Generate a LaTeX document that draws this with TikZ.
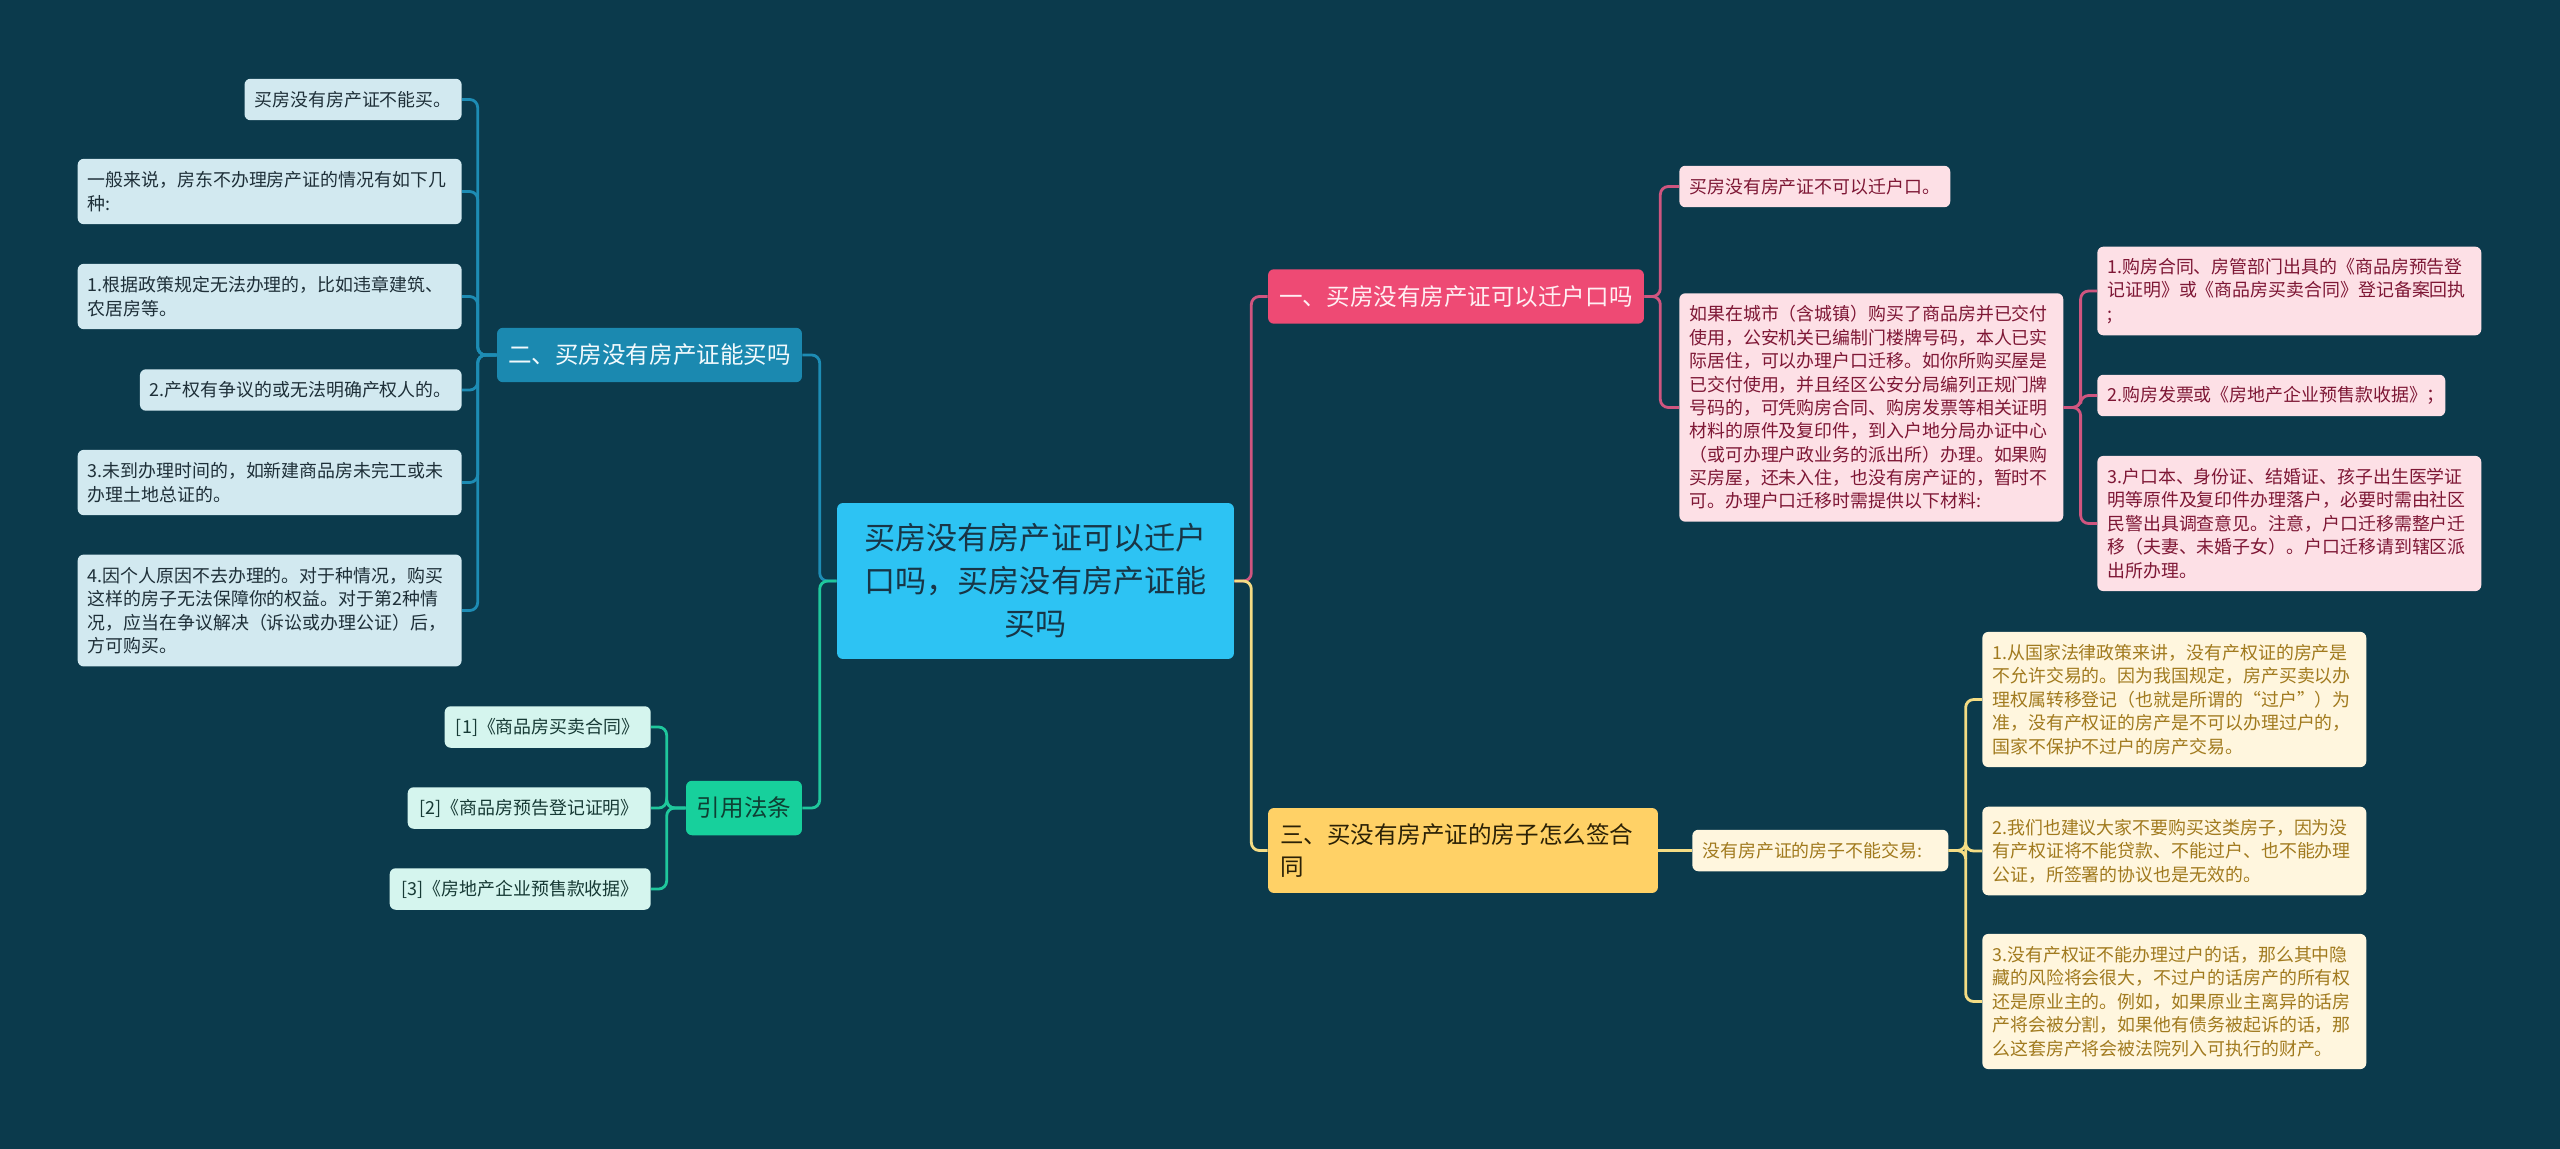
\documentclass[tikz,border=0pt]{standalone}
\usepackage{fontspec}
\setmainfont{Noto Sans CJK SC}

\definecolor{bgcol}{HTML}{0B3A4C}
\definecolor{rootfill}{HTML}{2DC3F3}
\definecolor{roottext}{HTML}{183546}
\definecolor{redfill}{HTML}{EE4A74}
\definecolor{redtext}{HTML}{FFEFF3}
\definecolor{redline}{HTML}{CF557F}
\definecolor{pinkleaf}{HTML}{FDE0E6}
\definecolor{pinktext}{HTML}{7E1735}
\definecolor{bluefill}{HTML}{1B89B0}
\definecolor{bluetext}{HTML}{F2FAFD}
\definecolor{blueline}{HTML}{1D8CB4}
\definecolor{blueleaf}{HTML}{D2E9F0}
\definecolor{bluelt}{HTML}{1E2F38}
\definecolor{yelfill}{HTML}{FFD166}
\definecolor{yeltext}{HTML}{2B2106}
\definecolor{yelline}{HTML}{F4DC84}
\definecolor{yelleaf}{HTML}{FFF6DE}
\definecolor{yellt}{HTML}{A17A1E}
\definecolor{grnfill}{HTML}{17D09C}
\definecolor{grntext}{HTML}{0E3F33}
\definecolor{grnline}{HTML}{1FC79C}
\definecolor{grnleaf}{HTML}{D5F5EE}
\definecolor{grnlt}{HTML}{173A35}

\begin{document}
\begin{tikzpicture}[x=0.02cm, y=-0.02cm,
    box/.style={rounded corners=0.12cm, inner sep=0pt},
    leaf/.style={box, inner xsep=0.2cm, align=left, minimum height=0.83cm, font=\fontsize{10.2pt}{13.3pt}\selectfont},
    wide/.style={text width=7.28cm},
    nlines/.style={minimum height={(42+(#1-1)*23.3)*0.02cm}},
    branch/.style={box, minimum height=1.09cm, font=\fontsize{13.4pt}{18pt}\selectfont},
    conn/.style={line width=1.6pt, rounded corners=0.16cm},
    bleaf/.style={leaf, fill=blueleaf, text=bluelt, anchor=east},
    pleaf/.style={leaf, fill=pinkleaf, text=pinktext, anchor=west},
    yleaf/.style={leaf, fill=yelleaf, text=yellt, anchor=west},
    gleaf/.style={leaf, fill=grnleaf, text=grnlt, anchor=east}]

    % fond
    \fill[bgcol] (0,0) rectangle (2560,1149);

    % centre
    \node[box, fill=rootfill, text=roottext, minimum width=7.94cm, minimum height=3.12cm, align=center,
        font=\fontsize{17.7pt}{24.5pt}\selectfont] (root) at (1035.5,581) {买房没有房产证可以迁户\\口吗，买房没有房产证能\\买吗};

    % branches
    \node[branch, fill=redfill, text=redtext, minimum width=7.52cm] (one) at (1456,296.5) {一、买房没有房产证可以迁户口吗};
    \node[branch, fill=bluefill, text=bluetext, minimum width=6.1cm] (two) at (649.5,355) {二、买房没有房产证能买吗};
    \node[branch, fill=yelfill, text=yeltext, minimum height=1.7cm, text width=7.32cm, inner xsep=0.24cm, align=left] (three) at (1463,850.5) {三、买没有房产证的房子怎么签合\\同};
    \node[branch, fill=grnfill, text=grntext, minimum width=2.32cm] (law) at (744,808) {引用法条};

    % branche deux
    \node[bleaf] (b0) at (462,99.5) {买房没有房产证不能买。};
    \node[bleaf, wide, nlines=2] (b1) at (462,191.5) {一般来说，房东不办理房产证的情况有如下几\\种:};
    \node[bleaf, wide, nlines=2] (b2) at (462,296.5) {1.根据政策规定无法办理的，比如违章建筑、\\农居房等。};
    \node[bleaf] (b3) at (462,390) {2.产权有争议的或无法明确产权人的。};
    \node[bleaf, wide, nlines=2] (b4) at (462,482.5) {3.未到办理时间的，如新建商品房未完工或未\\办理土地总证的。};
    \node[bleaf, wide, nlines=4] (b5) at (462,610.5) {4.因个人原因不去办理的。对于种情况，购买\\这样的房子无法保障你的权益。对于第2种情\\况，应当在争议解决（诉讼或办理公证）后，\\方可购买。};

    % references
    \node[gleaf, minimum width=4.12cm, align=center] (r1) at (651,727) {[1]《商品房买卖合同》};
    \node[gleaf, minimum width=4.86cm, align=center] (r2) at (651,808) {[2]《商品房预告登记证明》};
    \node[gleaf, minimum width=5.22cm, align=center] (r3) at (651,889) {[3]《房地产企业预售款收据》};

    % branche un
    \node[pleaf] (p0) at (1679,186.5) {买房没有房产证不可以迁户口。};
    \node[pleaf, wide, nlines=9] (hk) at (1679,407.5) {如果在城市（含城镇）购买了商品房并已交付\\使用，公安机关已编制门楼牌号码，本人已实\\际居住，可以办理户口迁移。如你所购买屋是\\已交付使用，并且经区公安分局编列正规门牌\\号码的，可凭购房合同、购房发票等相关证明\\材料的原件及复印件，到入户地分局办证中心\\（或可办理户政业务的派出所）办理。如果购\\买房屋，还未入住，也没有房产证的，暂时不\\可。办理户口迁移时需提供以下材料:};
    \node[pleaf, wide, nlines=3] (m1) at (2097,291) {1.购房合同、房管部门出具的《商品房预告登\\记证明》或《商品房买卖合同》登记备案回执\\;};
    \node[pleaf, text width=6.56cm] (m2) at (2097,395.5) {2.购房发票或《房地产企业预售款收据》；};
    \node[pleaf, wide, nlines=5] (m3) at (2097,523.5) {3.户口本、身份证、结婚证、孩子出生医学证\\明等原件及复印件办理落户，必要时需由社区\\民警出具调查意见。注意，户口迁移需整户迁\\移（夫妻、未婚子女）。户口迁移请到辖区派\\出所办理。};

    % branche trois
    \node[yleaf, text width=4.72cm] (deal) at (1692,850.5) {没有房产证的房子不能交易:};
    \node[yleaf, wide, nlines=5] (y1) at (1982,699.5) {1.从国家法律政策来讲，没有产权证的房产是\\不允许交易的。因为我国规定，房产买卖以办\\理权属转移登记（也就是所谓的“过户”）为\\准，没有产权证的房产是不可以办理过户的，\\国家不保护不过户的房产交易。};
    \node[yleaf, wide, nlines=3] (y2) at (1982,851) {2.我们也建议大家不要购买这类房子，因为没\\有产权证将不能贷款、不能过户、也不能办理\\公证，所签署的协议也是无效的。};
    \node[yleaf, wide, nlines=5] (y3) at (1982,1001.5) {3.没有产权证不能办理过户的话，那么其中隐\\藏的风险将会很大，不过户的话房产的所有权\\还是原业主的。例如，如果原业主离异的话房\\产将会被分割，如果他有债务被起诉的话，那\\么这套房产将会被法院列入可执行的财产。};

    % liens
    \draw[conn, blueline] (root.west) -- ++(-17,0) |- (two.east);
    \draw[conn, grnline] (root.west) -- ++(-17,0) |- (law.east);
    \draw[conn, redline] (root.east) -- ++(17,0) |- (one.west);
    \draw[conn, yelline] (root.east) -- ++(17,0) |- (three.west);

    \foreach \n in {b0,b1,b2,b3,b4,b5}
        \draw[conn, blueline] (two.west) -- ++(-19,0) |- (\n.east);
    \foreach \n in {r1,r2,r3}
        \draw[conn, grnline] (law.west) -- ++(-19,0) |- (\n.east);
    \foreach \n in {p0,hk}
        \draw[conn, redline] (one.east) -- ++(16,0) |- (\n.west);
    \foreach \n in {m1,m2,m3}
        \draw[conn, redline] (hk.east) -- ++(17,0) |- (\n.west);
    \draw[conn, yelline] (three.east) -- (deal.west);
    \foreach \n in {y1,y2,y3}
        \draw[conn, yelline] (deal.east) -- ++(17,0) |- (\n.west);

\end{tikzpicture}
\end{document}
